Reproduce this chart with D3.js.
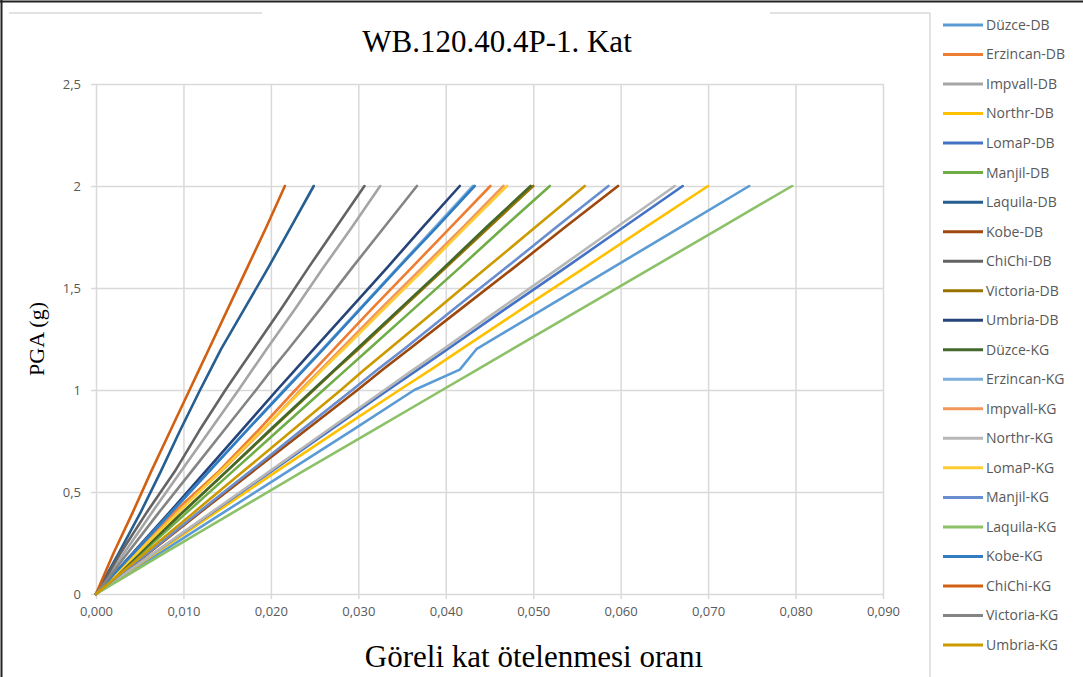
<!DOCTYPE html>
<html>
<head>
<meta charset="utf-8">
<script src="https://cdn.jsdelivr.net/npm/d3@7"></script>
<style>
  body { margin: 0; background: #fff; }
  svg { display: block; }
</style>
</head>
<body>
<svg id="chart" width="1083" height="677"></svg>
<script>
// PGA levels (g) at which the storey drift ratio was recorded
const pga = [0, 0.1, 0.2, 0.4, 0.6, 0.8, 1.0, 1.1, 1.2, 1.4, 1.6, 1.8, 2.0];

// Relative storey drift ratio per record, one value per PGA level
const duzceDB    = [0, 0.0037, 0.0073, 0.0146, 0.0219, 0.0292, 0.0364, 0.0416, 0.0435, 0.0513, 0.0591, 0.0669, 0.0747];
const erzincanDB = [0, 0.0022, 0.0044, 0.0089, 0.0140, 0.0185, 0.0228, 0.0250, 0.0272, 0.0316, 0.0361, 0.0406, 0.0451];
const impvallDB  = [0, 0.0016, 0.0032, 0.0064, 0.0097, 0.0130, 0.0163, 0.0179, 0.0195, 0.0228, 0.0260, 0.0293, 0.0325];
const northrDB   = [0, 0.0034, 0.0068, 0.0137, 0.0206, 0.0276, 0.0347, 0.0383, 0.0418, 0.0488, 0.0559, 0.0629, 0.0700];
const lomaPDB    = [0, 0.0033, 0.0066, 0.0133, 0.0200, 0.0267, 0.0334, 0.0368, 0.0402, 0.0469, 0.0537, 0.0604, 0.0671];
const manjilDB   = [0, 0.0026, 0.0052, 0.0104, 0.0156, 0.0208, 0.0260, 0.0286, 0.0312, 0.0364, 0.0416, 0.0467, 0.0519];
const laquilaDB  = [0, 0.0013, 0.0026, 0.0051, 0.0074, 0.0096, 0.0119, 0.0131, 0.0143, 0.0170, 0.0197, 0.0223, 0.0249];
const kobeDB     = [0, 0.0030, 0.0060, 0.0119, 0.0179, 0.0239, 0.0299, 0.0328, 0.0358, 0.0418, 0.0478, 0.0537, 0.0597];
const chichiDB   = [0, 0.0014, 0.0028, 0.0058, 0.0090, 0.0118, 0.0148, 0.0164, 0.0180, 0.0212, 0.0243, 0.0275, 0.0307];
const victoriaDB = [0, 0.0025, 0.0049, 0.0099, 0.0149, 0.0199, 0.0249, 0.0274, 0.0300, 0.0350, 0.0400, 0.0450, 0.0500];
const umbriaDB   = [0, 0.0021, 0.0042, 0.0084, 0.0125, 0.0166, 0.0207, 0.0228, 0.0249, 0.0291, 0.0333, 0.0374, 0.0416];
const duzceKG    = [0, 0.0025, 0.0050, 0.0099, 0.0149, 0.0198, 0.0248, 0.0273, 0.0298, 0.0348, 0.0398, 0.0447, 0.0497];
const erzincanKG = [0, 0.0022, 0.0043, 0.0086, 0.0129, 0.0172, 0.0215, 0.0237, 0.0259, 0.0302, 0.0345, 0.0388, 0.0431];
const impvallKG  = [0, 0.0023, 0.0046, 0.0092, 0.0143, 0.0190, 0.0234, 0.0257, 0.0280, 0.0326, 0.0373, 0.0420, 0.0466];
const northrKG   = [0, 0.0033, 0.0066, 0.0132, 0.0198, 0.0264, 0.0330, 0.0363, 0.0397, 0.0463, 0.0530, 0.0596, 0.0662];
const lomaPKG    = [0, 0.0023, 0.0047, 0.0094, 0.0142, 0.0189, 0.0236, 0.0259, 0.0283, 0.0330, 0.0377, 0.0423, 0.0470];
const manjilKG   = [0, 0.0029, 0.0059, 0.0117, 0.0176, 0.0234, 0.0293, 0.0322, 0.0352, 0.0410, 0.0469, 0.0527, 0.0586];
const laquilaKG  = [0, 0.0039, 0.0078, 0.0157, 0.0236, 0.0316, 0.0396, 0.0436, 0.0476, 0.0556, 0.0636, 0.0716, 0.0796];
const kobeKG     = [0, 0.0021, 0.0043, 0.0086, 0.0129, 0.0172, 0.0216, 0.0238, 0.0260, 0.0303, 0.0346, 0.0390, 0.0433];
const chichiKG   = [0, 0.0010, 0.0020, 0.0042, 0.0063, 0.0085, 0.0107, 0.0118, 0.0129, 0.0151, 0.0173, 0.0195, 0.0216];
const victoriaKG = [0, 0.0018, 0.0036, 0.0072, 0.0109, 0.0146, 0.0183, 0.0201, 0.0220, 0.0257, 0.0293, 0.0330, 0.0367];
const umbriaKG   = [0, 0.0028, 0.0056, 0.0112, 0.0168, 0.0224, 0.0280, 0.0307, 0.0335, 0.0391, 0.0447, 0.0503, 0.0559];

const seriesNames = [
  "Düzce-DB", "Erzincan-DB", "Impvall-DB", "Northr-DB", "LomaP-DB", "Manjil-DB",
  "Laquila-DB", "Kobe-DB", "ChiChi-DB", "Victoria-DB", "Umbria-DB",
  "Düzce-KG", "Erzincan-KG", "Impvall-KG", "Northr-KG", "LomaP-KG", "Manjil-KG",
  "Laquila-KG", "Kobe-KG", "ChiChi-KG", "Victoria-KG", "Umbria-KG"
];
const seriesValues = [
  duzceDB, erzincanDB, impvallDB, northrDB, lomaPDB, manjilDB,
  laquilaDB, kobeDB, chichiDB, victoriaDB, umbriaDB,
  duzceKG, erzincanKG, impvallKG, northrKG, lomaPKG, manjilKG,
  laquilaKG, kobeKG, chichiKG, victoriaKG, umbriaKG
];

const xTicks = [0, 0.01, 0.02, 0.03, 0.04, 0.05, 0.06, 0.07, 0.08, 0.09];
const yTicks = [0, 0.5, 1, 1.5, 2, 2.5];

const titleText = "WB.120.40.4P-1. Kat";
const xTitle = "Göreli kat ötelenmesi oranı";
const yTitle = "PGA (g)";

// Office palette, one colour per series in drawing order
const palette = [
  "#5B9BD5", "#ED7D31", "#A5A5A5", "#FFC000", "#4472C4", "#70AD47",
  "#255E91", "#9E480E", "#636363", "#997300", "#264478", "#43682B",
  "#7CAFDD", "#F1975A", "#B7B7B7", "#FFCD33", "#698ED0", "#8CC168",
  "#327DC2", "#D26012", "#848484", "#CC9A00"
];

const svg = d3.select("#chart");
const W = 1083, H = 677;
const plot = { left: 96, right: 883, top: 84, bottom: 594 };

svg.append("rect").attr("width", W).attr("height", H).attr("fill", "#fff");

// frame lines
svg.append("line").attr("x1", 0).attr("x2", W).attr("y1", 1.5).attr("y2", 1.5)
  .attr("stroke", "#222").attr("stroke-width", 2);
svg.append("line").attr("x1", 1.5).attr("x2", 1.5).attr("y1", 0).attr("y2", H)
  .attr("stroke", "#222").attr("stroke-width", 2);
const frame = svg.append("g").attr("stroke", "#d9d9d9").attr("stroke-width", 1.5);
frame.append("line").attr("x1", 9).attr("x2", 262).attr("y1", 13).attr("y2", 13);
frame.append("line").attr("x1", 770).attr("x2", 930).attr("y1", 13).attr("y2", 13);
frame.append("line").attr("x1", 930).attr("x2", 930).attr("y1", 13).attr("y2", H);

const x = d3.scaleLinear().domain([0, 0.09]).range([plot.left, plot.right]);
const y = d3.scaleLinear().domain([0, 2.5]).range([plot.bottom, plot.top]);

const gridColor = "#d9d9d9";

// vertical gridlines
const xAxis = d3.axisBottom(x)
  .tickValues(xTicks)
  .tickSizeInner(-(plot.bottom - plot.top))
  .tickSizeOuter(0)
  .tickFormat("");
svg.append("g").attr("transform", `translate(0,${plot.bottom})`).call(xAxis)
  .call(g => g.select(".domain").remove())
  .call(g => g.selectAll("line").attr("stroke", gridColor).attr("stroke-width", 1.5));

// x tick marks and labels
const xLabels = d3.axisBottom(x)
  .tickValues(xTicks)
  .tickSize(5)
  .tickPadding(8)
  .tickFormat(d => d3.format(".3f")(d).replace(".", ","));
svg.append("g").attr("transform", `translate(0,${plot.bottom})`).call(xLabels)
  .call(g => g.select(".domain").remove())
  .call(g => g.selectAll("line").attr("stroke", gridColor).attr("stroke-width", 1.5))
  .call(g => g.selectAll("text").attr("fill", "#595959")
    .style("font-family", "'Open Sans', sans-serif").style("font-size", "13px"));

// horizontal gridlines
const yAxis = d3.axisLeft(y)
  .tickValues(yTicks)
  .tickSizeInner(-(plot.right - plot.left))
  .tickSizeOuter(0)
  .tickFormat("");
svg.append("g").attr("transform", `translate(${plot.left},0)`).call(yAxis)
  .call(g => g.select(".domain").remove())
  .call(g => g.selectAll("line").attr("stroke", gridColor).attr("stroke-width", 1.5));

// y tick marks and labels
const yLabels = d3.axisLeft(y)
  .tickValues(yTicks)
  .tickSize(5)
  .tickPadding(10)
  .tickFormat(d => String(d).replace(".", ","));
svg.append("g").attr("transform", `translate(${plot.left},0)`).call(yLabels)
  .call(g => g.select(".domain").remove())
  .call(g => g.selectAll("line").attr("stroke", gridColor).attr("stroke-width", 1.5))
  .call(g => g.selectAll("text").attr("fill", "#595959")
    .style("font-family", "'Open Sans', sans-serif").style("font-size", "13px"));

// series lines
const line = d3.line()
  .x(d => x(d))
  .y((d, i) => y(pga[i]));

svg.append("g").attr("fill", "none")
  .selectAll("path")
  .data(seriesValues)
  .join("path")
  .attr("d", line)
  .attr("stroke", (d, i) => palette[i])
  .attr("stroke-width", 2.6)
  .attr("stroke-linejoin", "round")
  .attr("stroke-linecap", "round");

// titles
svg.append("text")
  .attr("x", 497).attr("y", 52)
  .attr("text-anchor", "middle")
  .style("font-family", "'Liberation Serif', 'Times New Roman', serif")
  .style("font-size", "31px")
  .attr("fill", "#000")
  .text(titleText);

svg.append("text")
  .attr("x", 534).attr("y", 667)
  .attr("text-anchor", "middle")
  .style("font-family", "'Liberation Serif', 'Times New Roman', serif")
  .style("font-size", "31px")
  .attr("fill", "#000")
  .text(xTitle);

svg.append("text")
  .attr("transform", `translate(44,${(plot.top + plot.bottom) / 2}) rotate(-90)`)
  .attr("text-anchor", "middle")
  .style("font-family", "'Liberation Serif', 'Times New Roman', serif")
  .style("font-size", "22px")
  .attr("fill", "#000")
  .text(yTitle);

// legend
const legendY = d3.scalePoint().domain(seriesNames).range([25, 645]);
const legend = svg.append("g")
  .selectAll("g")
  .data(seriesNames)
  .join("g")
  .attr("transform", d => `translate(0,${legendY(d)})`);
legend.append("line")
  .attr("x1", 943).attr("x2", 983)
  .attr("stroke", (d, i) => palette[i])
  .attr("stroke-width", 3);
legend.append("text")
  .attr("x", 986).attr("dy", "0.35em")
  .attr("fill", "#595959")
  .style("font-family", "'Open Sans', sans-serif")
  .style("font-size", "14px")
  .text(d => d);
</script>
</body>
</html>
